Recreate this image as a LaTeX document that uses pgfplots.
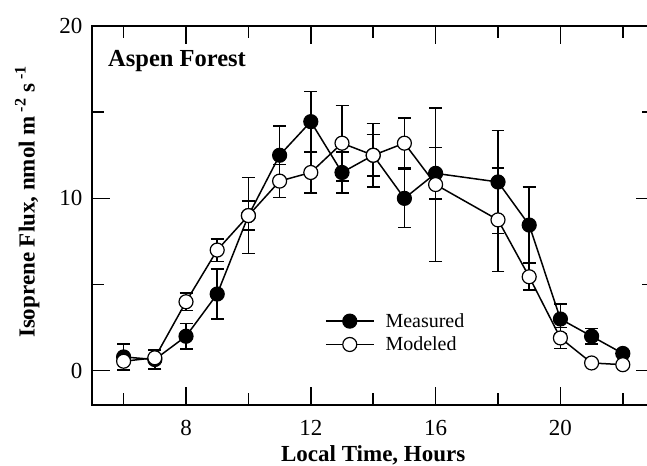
\documentclass[border=0pt]{standalone}
\usepackage{pgfplots}
\pgfplotsset{compat=1.18}
\usepackage{pgfplotstable}
\usepackage{fontspec}
\setmainfont{Liberation Serif}

% t: hour, m/me: measured and its error, o/oe: modeled and its error
\pgfplotstableread{
t   m     me    o     oe
6   0.8   0.75  0.55  0.2
7   0.65  0.55  0.75  0.2
8   2.0   0.75  4.0   0.5
9   4.45  1.45  7.0   0.65
10  9.0   2.2   9.0   0.85
11  12.5  1.7   11.0  0.95
12  14.45 1.75  11.5  1.2
13  11.5  1.2   13.2  2.2
14  12.5  1.85  12.5  1.2
15  10.0  1.7   13.2  1.45
16  11.45 1.5   10.8  4.45
18  10.95 3.0   8.75  3.0
19  8.45  2.2   5.45  0.77
20  3.0   0.88  1.9   0.62
21  2.0   0.45  0.45  0
22  1.0   0     0.35  0
}\flux

\begin{document}
\begin{tikzpicture}
\begin{axis}[
  scale only axis, width=562pt, height=379.5pt,
  xmin=5, xmax=23, ymin=-2, ymax=20,
  xtick={8,12,16,20}, minor xtick={6,10,14,18,22},
  ytick={0,10,20}, minor ytick={5,15},
  tick align=inside,
  major tick length=18pt, minor tick length=12pt,
  every tick/.style={black, line width=1.5pt},
  axis line style={line width=2pt},
  ticklabel style={font=\fontsize{23}{23}\selectfont},
  /pgf/number format/assume math mode=true,
  xticklabel style={anchor=base, yshift=-30pt},
  yticklabel style={anchor=east, xshift=-6.5pt},
  xlabel={\textbf{Local Time, Hours}},
  ylabel={\textbf{Isoprene Flux, nmol m\,\textsuperscript{-2} s\,\textsuperscript{-1}}},
  every axis x label/.style={at={(rel axis cs:0.5,-0.149)}, anchor=base, font=\fontsize{23}{23}\selectfont},
  every axis y label/.style={at={(rel axis cs:-0.116,0.536)}, rotate=90, anchor=center, font=\fontsize{23}{23}\selectfont},
  legend style={at={(axis cs:12.45,3.45)}, anchor=north west, draw=none, fill=none,
    inner sep=0pt, font=\fontsize{20}{22}\selectfont, row sep=4pt,
    /tikz/every odd column/.append style={column sep=9pt}},
  legend cell align=left,
  legend image code/.code={\draw[mark repeat=2, mark phase=2, #1]
    plot coordinates {(0pt,0pt) (24pt,0pt) (48pt,0pt)};},
  clip=false,
]
\addplot[black, line width=1.5pt, mark=*, mark size=7pt,
  mark options={fill=black, line width=1.2pt},
  error bars/.cd, y dir=both, y explicit,
  error bar style={line width=1.5pt},
  error mark options={rotate=90, mark size=6.5pt, line width=1.5pt}]
  table[x=t, y=m, y error=me] {\flux};
\addlegendentry{Measured}
\addplot[black, line width=1.5pt, mark=*, mark size=7pt,
  mark options={fill=white, line width=1.2pt},
  error bars/.cd, y dir=both, y explicit,
  error bar style={line width=1.5pt},
  error mark options={rotate=90, mark size=6.5pt, line width=1.5pt}]
  table[x=t, y=o, y error=oe] {\flux};
\addlegendentry{Modeled}
\node[anchor=base west, inner sep=0pt, font=\fontsize{24.5}{24.5}\selectfont\bfseries]
  at (axis cs:5.5,17.64) {Aspen Forest};
\coordinate (bl) at (axis cs:2.038,-5.507);
\coordinate (tr) at (axis cs:22.776,21.507);
\end{axis}
\pgfresetboundingbox
\useasboundingbox (bl) rectangle (tr);
\end{tikzpicture}
\end{document}
